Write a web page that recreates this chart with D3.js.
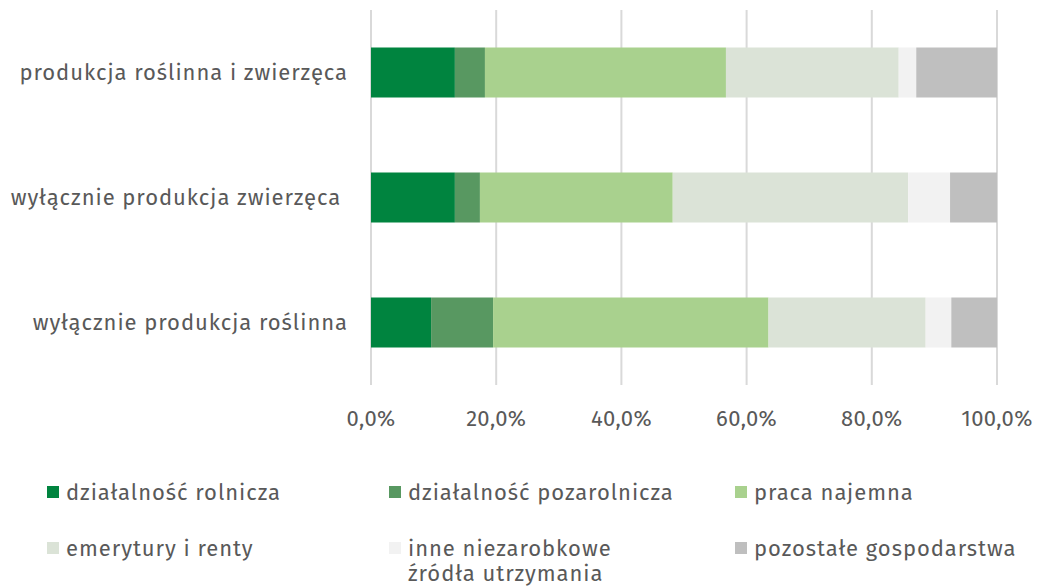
<!DOCTYPE html>
<html>
<head>
<meta charset="utf-8">
<script src="https://cdn.jsdelivr.net/npm/d3@7"></script>
<style>
  body { margin: 0; background: #fff; }
  svg text { font-family: "Fira Sans", "Open Sans", sans-serif; fill: #595959; }
  .lbl { font-size: 22px; letter-spacing: 0.95px; }
  .tick { font-size: 22px; letter-spacing: 0.3px; }
</style>
</head>
<body>
<svg id="chart" width="1037" height="586"></svg>
<script>
// categories, top to bottom
const categories = [
  "produkcja roślinna i zwierzęca",
  "wyłącznie produkcja zwierzęca ",
  "wyłącznie produkcja roślinna"
];
const seriesNames = [
  "działalność rolnicza",
  "działalność pozarolnicza",
  "praca najemna",
  "emerytury i renty",
  "inne niezarobkowe źródła utrzymania",
  "pozostałe gospodarstwa"
];
const colors = ["#00843f", "#589861", "#a9d18e", "#dbe3d7", "#f2f2f2", "#bfbfbf"];
// shares in %, one array per series, in category order
const rolnicza     = [13.4, 13.4,  9.6];
const pozarolnicza = [4.8,  4.0,   9.9];
const najemna      = [38.5, 30.8, 44.0];
const emerytury    = [27.6, 37.6, 25.1];
const inne         = [2.8,  6.7,   4.1];
const pozostale    = [12.9, 7.5,   7.3];
const tickValues = [0, 20, 40, 60, 80, 100];

const seriesValues = [rolnicza, pozarolnicza, najemna, emerytury, inne, pozostale];
const table = categories.map((c, i) => {
  const row = { category: c };
  seriesNames.forEach((s, j) => { row[s] = seriesValues[j][i]; });
  return row;
});

const svg = d3.select("#chart");
const plotLeft = 371, plotRight = 997, plotTop = 10, plotBottom = 385;

const x = d3.scaleLinear().domain([0, 100]).range([plotLeft, plotRight]);
const y = d3.scaleBand().domain(categories).range([plotTop, plotBottom])
  .paddingInner(0.6).paddingOuter(0.3);

// grid
svg.append("g").selectAll("line")
  .data(tickValues).enter().append("line")
    .attr("x1", d => x(d)).attr("x2", d => x(d))
    .attr("y1", plotTop).attr("y2", plotBottom)
    .attr("stroke", "#d9d9d9").attr("stroke-width", 2);

// tick labels
const fmt = d => d.toFixed(1).replace(".", ",") + "%";
svg.append("g").selectAll("text")
  .data(tickValues).enter().append("text")
    .attr("class", "tick")
    .attr("x", d => x(d)).attr("y", 426)
    .attr("text-anchor", "middle")
    .text(fmt);

// stacked bars
const stack = d3.stack().keys(seriesNames);
const layers = stack(table);
svg.append("g").selectAll("g")
  .data(layers).enter().append("g")
    .attr("fill", (d, i) => colors[i])
  .selectAll("rect")
  .data(d => d).enter().append("rect")
    .attr("x", d => x(d[0]))
    .attr("width", d => x(d[1]) - x(d[0]))
    .attr("y", d => y(d.data.category))
    .attr("height", y.bandwidth());

// category labels
svg.append("g").selectAll("text")
  .data(categories).enter().append("text")
    .attr("class", "lbl")
    .attr("x", 348)
    .attr("y", d => y(d) + y.bandwidth() / 2)
    .attr("dy", "0.35em")
    .attr("text-anchor", "end")
    .style("white-space", "pre")
    .text(d => d);

// legend
const legendPos = [
  [47, 492], [389, 492], [735, 492],
  [47, 548], [389, 548], [735, 548]
];
const legend = svg.append("g").selectAll("g")
  .data(seriesNames).enter().append("g")
    .attr("transform", (d, i) => "translate(" + legendPos[i][0] + "," + legendPos[i][1] + ")");
legend.append("rect")
  .attr("x", 0).attr("y", -6).attr("width", 12).attr("height", 12)
  .attr("fill", (d, i) => colors[i]);
legend.append("text")
  .attr("class", "lbl")
  .attr("x", 19).attr("y", 0)
  .each(function(d) {
    const t = d3.select(this);
    const lines = d === "inne niezarobkowe źródła utrzymania"
      ? ["inne niezarobkowe", "źródła utrzymania"] : [d];
    lines.forEach((l, k) => {
      t.append("tspan").attr("x", 19).attr("dy", k === 0 ? "0.35em" : "25px").text(l);
    });
  });
</script>
</body>
</html>
